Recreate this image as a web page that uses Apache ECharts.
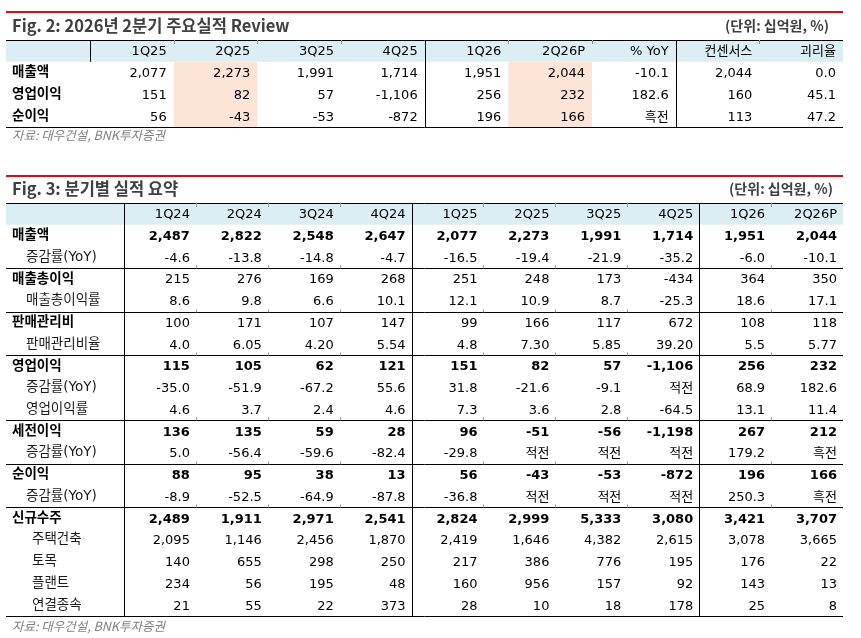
<!DOCTYPE html>
<html>
<head>
<meta charset="utf-8">
<script src="https://cdn.jsdelivr.net/npm/echarts@6/dist/echarts.min.js"></script>
<style>
html, body { margin: 0; padding: 0; background: #fff; }
#main { width: 861px; height: 638px; }
</style>
</head>
<body>
<div id="main"></div>
<script>
// Fig. 2: 2026년 2분기 주요실적 Review
var cols2 = ['1Q25', '2Q25', '3Q25', '4Q25', '1Q26', '2Q26P', '% YoY', '컨센서스', '괴리율'];
var rows2 = ['구분', '매출액', '영업이익', '순이익'];
var sales2 = ['2,077', '2,273', '1,991', '1,714', '1,951', '2,044', '-10.1', '2,044', '0.0'];
var op2 = ['151', '82', '57', '-1,106', '256', '232', '182.6', '160', '45.1'];
var net2 = ['56', '-43', '-53', '-872', '196', '166', '흑전', '113', '47.2'];

// Fig. 3: 분기별 실적 요약
var cols3 = ['1Q24', '2Q24', '3Q24', '4Q24', '1Q25', '2Q25', '3Q25', '4Q25', '1Q26', '2Q26P'];
var rows3 = ['', '매출액', '증감률(YoY)', '매출총이익', '매출총이익률', '판매관리비', '판매관리비율',
	'영업이익', '증감률(YoY)', '영업이익률', '세전이익', '증감률(YoY)', '순이익', '증감률(YoY)',
	'신규수주', '주택건축', '토목', '플랜트', '연결종속'];
var sales3 = ['2,487', '2,822', '2,548', '2,647', '2,077', '2,273', '1,991', '1,714', '1,951', '2,044'];
var salesYoy3 = ['-4.6', '-13.8', '-14.8', '-4.7', '-16.5', '-19.4', '-21.9', '-35.2', '-6.0', '-10.1'];
var gross3 = ['215', '276', '169', '268', '251', '248', '173', '-434', '364', '350'];
var grossMargin3 = ['8.6', '9.8', '6.6', '10.1', '12.1', '10.9', '8.7', '-25.3', '18.6', '17.1'];
var sga3 = ['100', '171', '107', '147', '99', '166', '117', '672', '108', '118'];
var sgaRatio3 = ['4.0', '6.05', '4.20', '5.54', '4.8', '7.30', '5.85', '39.20', '5.5', '5.77'];
var op3 = ['115', '105', '62', '121', '151', '82', '57', '-1,106', '256', '232'];
var opYoy3 = ['-35.0', '-51.9', '-67.2', '55.6', '31.8', '-21.6', '-9.1', '적전', '68.9', '182.6'];
var opMargin3 = ['4.6', '3.7', '2.4', '4.6', '7.3', '3.6', '2.8', '-64.5', '13.1', '11.4'];
var pretax3 = ['136', '135', '59', '28', '96', '-51', '-56', '-1,198', '267', '212'];
var pretaxYoy3 = ['5.0', '-56.4', '-59.6', '-82.4', '-29.8', '적전', '적전', '적전', '179.2', '흑전'];
var net3 = ['88', '95', '38', '13', '56', '-43', '-53', '-872', '196', '166'];
var netYoy3 = ['-8.9', '-52.5', '-64.9', '-87.8', '-36.8', '적전', '적전', '적전', '250.3', '흑전'];
var orders3 = ['2,489', '1,911', '2,971', '2,541', '2,824', '2,999', '5,333', '3,080', '3,421', '3,707'];
var housing3 = ['2,095', '1,146', '2,456', '1,870', '2,419', '1,646', '4,382', '2,615', '3,078', '3,665'];
var civil3 = ['140', '655', '298', '250', '217', '386', '776', '195', '176', '22'];
var plant3 = ['234', '56', '195', '48', '160', '956', '157', '92', '143', '13'];
var subsid3 = ['21', '55', '22', '373', '28', '10', '18', '178', '25', '8'];

// 표 형태 설정
var body2 = [cols2, sales2, op2, net2];
var kinds2 = ['h', 'l', 'l', 'l'];
var body3 = [cols3, sales3, salesYoy3, gross3, grossMargin3, sga3, sgaRatio3, op3, opYoy3, opMargin3,
	pretax3, pretaxYoy3, net3, netYoy3, orders3, housing3, civil3, plant3, subsid3];
var kinds3 = ['h', 'b', 's', 'l', 's', 'l', 's', 'b', 's', 's', 'b', 's', 'b', 's', 'b', 't', 't', 't', 't'];

var NUM_FONT = '"DejaVu Sans", "Noto Sans CJK KR", sans-serif';
var KR_FONT = '"Noto Sans CJK KR", sans-serif';

function makeCells(body) {
	var cells = [];
	body.forEach(function(row, r) {
		row.forEach(function(v, c) {
			cells.push([c, r, v]);
		});
	});
	return cells;
}
var cells2 = makeCells(body2);
var cells3 = makeCells(body3);

function cellText(cells, kinds, pad) {
	return function(params, api) {
		var d = cells[params.dataIndex];
		var p = api.coord([d[0], d[1]]);
		var s = api.size([1, 1]);
		var k = kinds[d[1]];
		return {
			type: 'text',
			style: {
				x: p[0] + s[0] / 2 - pad,
				y: p[1] + 1,
				text: d[2],
				align: 'right',
				verticalAlign: 'middle',
				font: (k === 'b' ? 'bold ' : '') + '13px ' + NUM_FONT,
				fill: '#000'
			}
		};
	};
}

function crisp(v) {
	return Math.round(v) + 0.5;
}

function tableDecor(cfg) {
	return function(params, api) {
		var cs = params.coordSys;
		var s = api.size([1, 1]);
		var left = cs.x - cfg.labelW;
		var right = cs.x + cs.width;
		var top = cs.y;
		var bottom = cs.y + cs.height;
		var ch = [];
		var line = function(x1, y1, x2, y2, color) {
			ch.push({
				type: 'line',
				shape: { x1: x1, y1: y1, x2: x2, y2: y2 },
				style: { stroke: color || '#000', lineWidth: 1 }
			});
		};
		// 헤더 배경
		ch.push({ type: 'rect', shape: { x: left, y: top, width: right - left, height: s[1] }, style: { fill: '#dbeef3' } });
		// 음영 열
		cfg.hiCols.forEach(function(c) {
			var p = api.coord([c, 0]);
			ch.push({ type: 'rect', shape: { x: p[0] - s[0] / 2, y: top + s[1], width: s[0], height: cs.height - s[1] }, style: { fill: '#fce4d6' } });
		});
		// 가로선
		line(left, crisp(top), right, crisp(top));
		cfg.sepRows.forEach(function(r) {
			var y = crisp(api.coord([0, r])[1] + s[1] / 2);
			line(left, y, right, y);
			for (var c = 0; c < cfg.nCols - 1; c++) {
				var x = crisp(api.coord([c, 0])[0] + s[0] / 2);
				line(x, y - 3, x, y, '#999');
			}
		});
		line(left, crisp(bottom), right, crisp(bottom));
		// 위쪽 눈금
		for (var c = 0; c < cfg.nCols - 1; c++) {
			var x = crisp(api.coord([c, 0])[0] + s[0] / 2);
			line(x, top, x, top + 4, '#999');
		}
		// 세로선
		var lx = crisp(cs.x);
		line(lx, top, lx, cfg.labelFull ? bottom : top + s[1]);
		cfg.vCols.forEach(function(c) {
			var x = crisp(api.coord([c, 0])[0] + s[0] / 2);
			line(x, top, x, bottom);
		});
		return { type: 'group', children: ch };
	};
}

function labelFmt(kinds) {
	return function(v, i) {
		if (!v) return '';
		return '{' + kinds[i] + '|' + v + '}';
	};
}
var labelRich = {
	h: { fontFamily: NUM_FONT, fontSize: 13.5, color: '#000' },
	l: { fontFamily: NUM_FONT, fontSize: 13.5, fontWeight: 'bold', color: '#000' },
	b: { fontFamily: NUM_FONT, fontSize: 13.5, fontWeight: 'bold', color: '#000' },
	s: { fontFamily: NUM_FONT, fontSize: 13.5, color: '#1a1a1a', padding: [0, 0, 0, 14] },
	t: { fontFamily: NUM_FONT, fontSize: 13.5, color: '#1a1a1a', padding: [0, 0, 0, 20] }
};

function yAx(grid, rows, kinds, margin) {
	return {
		type: 'category',
		gridIndex: grid,
		data: rows,
		inverse: true,
		axisLine: { show: false },
		axisTick: { show: false },
		splitLine: { show: false },
		axisLabel: {
			interval: 0,
			margin: margin,
			align: 'left',
			formatter: labelFmt(kinds),
			rich: labelRich
		}
	};
}
function xAx(grid, cols) {
	return { type: 'category', gridIndex: grid, data: cols, show: false };
}

function headText(x, y, text) {
	return { type: 'text', left: x, top: y, style: { text: text, font: 'bold 16.5px ' + KR_FONT, fill: '#404040' } };
}
function unitText(x, y) {
	return { type: 'text', right: x, top: y, style: { text: '(단위: 십억원, %)', font: 'bold 14px ' + KR_FONT, fill: '#404040' } };
}
function srcText(y) {
	return { type: 'text', left: 12, top: y, style: { text: '자료: 대우건설, BNK투자증권', font: 'italic 12.5px ' + KR_FONT, fill: '#7f7f7f' } };
}
function redLine(y) {
	return { type: 'rect', shape: { x: 6, y: y, width: 837, height: 2 }, style: { fill: '#e30613' } };
}

var myChart = echarts.init(document.getElementById('main'));
myChart.setOption({
	animation: false,
	grid: [
		{ left: 90, right: 18, top: 40, height: 87 },
		{ left: 124, right: 18, top: 203, height: 413 }
	],
	xAxis: [xAx(0, cols2), xAx(1, cols3)],
	yAxis: [yAx(0, rows2, kinds2, 78), yAx(1, rows3, kinds3, 112)],
	graphic: [
		redLine(11),
		headText(12, 17, 'Fig. 2: 2026년 2분기 주요실적 Review'),
		unitText(32, 19),
		srcText(129),
		redLine(175),
		headText(12, 180, 'Fig. 3: 분기별 실적 요약'),
		unitText(28, 182),
		srcText(620)
	],
	series: [{
		type: 'custom',
		xAxisIndex: 0,
		yAxisIndex: 0,
		data: [[0, 0]],
		renderItem: tableDecor({ labelW: 84, nCols: cols2.length, hiCols: [1, 5], sepRows: [], vCols: [3, 6], labelFull: false }),
		silent: true,
		z: 1
	}, {
		type: 'custom',
		xAxisIndex: 0,
		yAxisIndex: 0,
		data: cells2.map(function(d) { return [d[0], d[1]]; }),
		renderItem: cellText(cells2, kinds2, 7),
		silent: true,
		z: 2
	}, {
		type: 'custom',
		xAxisIndex: 1,
		yAxisIndex: 1,
		data: [[0, 0]],
		renderItem: tableDecor({ labelW: 118, nCols: cols3.length, hiCols: [], sepRows: [2, 4, 6, 9, 11, 13], vCols: [3, 7], labelFull: true }),
		silent: true,
		z: 1
	}, {
		type: 'custom',
		xAxisIndex: 1,
		yAxisIndex: 1,
		data: cells3.map(function(d) { return [d[0], d[1]]; }),
		renderItem: cellText(cells3, kinds3, 6),
		silent: true,
		z: 2
	}]
});
</script>
</body>
</html>
